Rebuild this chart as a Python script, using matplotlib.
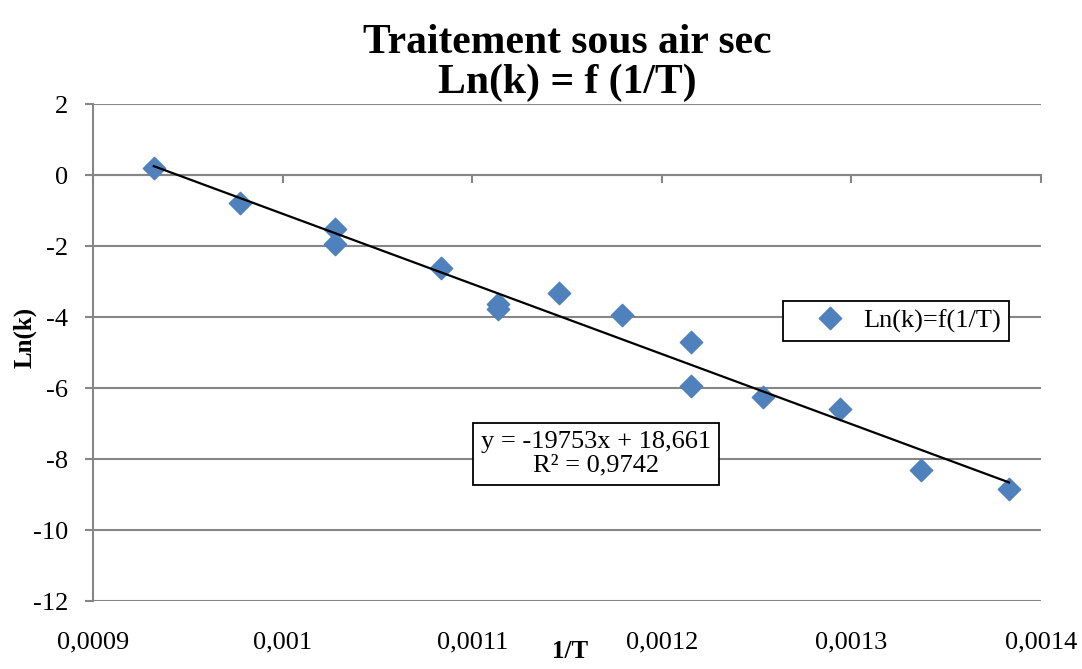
import numpy as np
import matplotlib.pyplot as plt
from matplotlib.ticker import FuncFormatter

plt.rcParams['font.family'] = ['Liberation Serif', 'DejaVu Serif']
plt.rcParams['axes.unicode_minus'] = False

# Inverse temperature (1/K) and ln(k) measured under dry air
inv_T = [0.0009320, 0.0009775, 0.0010277, 0.0010277, 0.0010834, 0.0011136, 0.0011136,
         0.0011455, 0.0011792, 0.0012151, 0.0012151, 0.0012531, 0.0012937, 0.0013369, 0.0013831]
ln_k = [0.21, -0.78, -1.53, -1.95, -2.61, -3.63, -3.77,
        -3.32, -3.94, -4.70, -5.94, -6.26, -6.60, -8.31, -8.85]

# Linear trendline parameters
slope = -19753
intercept = 18.661
r2 = 0.9742

x_ticks = [0.0009, 0.0010, 0.0011, 0.0012, 0.0013, 0.0014]
y_ticks = [-12, -10, -8, -6, -4, -2, 0, 2]

grey = '#868686'
blue = '#4F81BD'

fig = plt.figure(figsize=(10.82, 6.69), dpi=100)
ax = fig.add_axes([0.086, 0.1016, 0.8762, 0.7429])

ax.set_xlim(0.0009, 0.0014)
ax.set_ylim(-12, 2)
ax.set_yticks(y_ticks)
ax.set_xticks(x_ticks)
ax.yaxis.grid(True, color=grey, linewidth=1.5)
ax.set_axisbelow(True)

def comma(v, pos=None):
    return '{:g}'.format(round(v, 5)).replace('.', ',')

# horizontal axis crosses at y = 0, labels stay at the bottom
for s in ['top', 'right']:
    ax.spines[s].set_visible(False)
ax.spines['bottom'].set_position(('data', 0))
ax.spines['bottom'].set_color(grey)
ax.spines['bottom'].set_linewidth(1.5)
ax.spines['left'].set_color(grey)
ax.spines['left'].set_linewidth(1.5)
ax.tick_params(axis='x', length=6, width=1.5, color=grey, labelbottom=False)
ax.tick_params(axis='y', length=6, width=1.5, color=grey, labelsize=19, pad=12)

sec = ax.secondary_xaxis('bottom')
sec.set_xticks(x_ticks)
sec.xaxis.set_major_formatter(FuncFormatter(comma))
sec.tick_params(length=0, labelsize=19, pad=22)
sec.spines['bottom'].set_visible(False)

ax.scatter(inv_T, ln_k, marker='D', s=130, color=blue, zorder=3, label='Ln(k)=f(1/T)')

x_fit = np.array([min(inv_T), max(inv_T)])
ax.plot(x_fit, slope * x_fit + intercept, color='black', linewidth=1.6, zorder=4)

eq = 'y = {:d}x + {}\nR² = {}'.format(slope, str(intercept).replace('.', ','),
                                     str(r2).replace('.', ','))
ax.text(0.531, 0.296, eq, transform=ax.transAxes, ha='center', va='center',
        fontsize=19, multialignment='center', linespacing=1.1,
        bbox=dict(boxstyle='square,pad=0.3', facecolor='white', edgecolor='black', linewidth=1.3))

leg = ax.legend(loc='center left', bbox_to_anchor=(0.728, 0.564), fontsize=19,
                frameon=True, fancybox=False, edgecolor='black', framealpha=1,
                borderpad=0.3, handlelength=2.95, handletextpad=-0.2,
                scatterpoints=1, scatteryoffsets=[0.5], borderaxespad=0)
leg.get_frame().set_linewidth(1.3)

ax.set_title('Traitement sous air sec\nLn(k) = f (1/T)', fontsize=30, fontweight='bold',
             linespacing=1.05, pad=8)
ax.set_ylabel('Ln(k)', fontsize=18, fontweight='bold')
ax.yaxis.set_label_coords(-0.059, 0.53)
ax.set_xlabel('1/T', fontsize=18, fontweight='bold')
ax.xaxis.set_label_coords(0.503, -0.079)

fig.savefig('out.png', dpi=100)
